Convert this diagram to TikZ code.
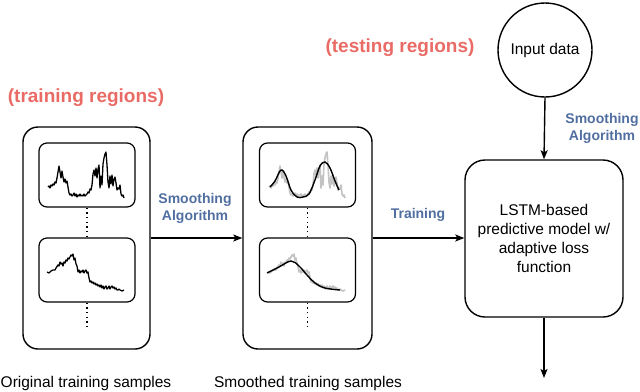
\documentclass[tikz,border=0pt]{standalone}
\usepackage{fontspec}
\setmainfont{Liberation Sans}
\usetikzlibrary{arrows.meta}
\definecolor{redlab}{RGB}{234,107,102}
\definecolor{bluelab}{RGB}{80,110,160}
\definecolor{noisegray}{RGB}{195,195,195}
\begin{document}
\begin{tikzpicture}[x=1pt,y=-1pt,
  bigbox/.style={draw,line width=1.4pt,rounded corners=15pt,inner sep=0pt},
  smallbox/.style={draw,line width=1.2pt,rounded corners=8pt,inner sep=0pt,minimum width=96pt,minimum height=64pt},
  arr/.style={line width=1.4pt,-{Stealth[length=9pt,width=7pt,inset=2pt]}},
  dots/.style={line width=1.2pt,dash pattern=on 1.2pt off 3.5pt},
  blab/.style={text=bluelab,font=\fontsize{14}{17}\selectfont\bfseries,align=center},
  rlab/.style={text=redlab,font=\fontsize{19}{22}\selectfont\bfseries},
  captext/.style={font=\fontsize{15.5}{18}\selectfont},
  sig/.style={line width=1.3pt,line join=round},
  sm/.style={line width=1.4pt,smooth,tension=0.6}]
\useasboundingbox (0,0) rectangle (640,391);

% big boxes
\node[bigbox,minimum width=127pt,minimum height=222pt] (orig) at (86.5,238) {};
\node[bigbox,minimum width=129pt,minimum height=222pt] (smo) at (307.5,238) {};
\node[bigbox,rounded corners=20pt,minimum width=158pt,minimum height=157pt,align=center,font=\fontsize{15.5}{18.7}\selectfont] (lstm) at (544,238.5) {LSTM-based\\predictive model w/\\adaptive loss\\function};
\node[draw,circle,line width=1.4pt,minimum size=94pt,inner sep=0pt,font=\fontsize{15.5}{18}\selectfont] (inp) at (545,50) {Input data};

% inner boxes
\node[smallbox] (o1) at (87,175) {};
\node[smallbox] (o2) at (87,270) {};
\node[smallbox] (s1) at (307.5,175) {};
\node[smallbox] (s2) at (307.5,270) {};
\coordinate (oend) at (87,330);
\coordinate (send) at (307.5,330);
\draw[dots] (o1.south) -- (o2.north);
\draw[dots] (o2.south) -- (oend);
\draw[dots] (s1.south) -- (s2.north);
\draw[dots] (s2.south) -- (send);

% signals
\def\topsig{(48,187) (49,186) (50,188) (51,185) (52,186) (53,184) (54,185) (55,182) (56,183) (57,178) (58,172) (59,166) (60,172) (61,178) (62,171) (63,177) (64,182) (65,179) (66,183) (67,181) (68,187) (69,193) (70,195) (71,194) (72,196) (73,195) (74,193) (75,196) (76,194) (77,197) (78,195) (79,196) (80,194) (81,196) (82,195) (83,196) (84,194) (85,196) (86,195) (87,194) (88,192) (89,193) (90,189) (91,190) (92,185) (93,174) (94,170) (95,176) (96,168) (97,178) (98,169) (99,165) (100,188) (101,176) (102,185) (103,164) (104,158) (105,154) (106,152) (107,165) (108,182) (109,188) (110,176) (111,184) (112,175) (113,186) (114,179) (115,177) (116,183) (117,190) (118,188) (119,189) (120,185) (121,194) (122,196) (123,195) (124,198)}
\def\botsig{(47,272) (49,273) (51,271) (53,270) (55,270) (56,268) (58,265) (59,266) (60,262) (61,264) (62,263) (63,266) (64,262) (65,263) (66,260) (67,261) (68,258) (69,259) (70,257) (71,255) (72,256) (73,254) (74,260) (75,258) (76,264) (77,266) (78,272) (79,270) (80,273) (81,271) (82,272) (83,270) (84,273) (85,271) (86,270) (87,273) (88,272) (89,278) (90,282) (91,281) (92,283) (93,282) (94,284) (95,283) (96,285) (97,284) (98,286) (99,285) (100,287) (101,285) (102,288) (103,286) (104,289) (105,287) (106,286) (107,289) (108,288) (109,286) (110,289) (111,287) (112,286) (113,288) (114,287) (115,289) (116,288) (117,290) (118,290) (119,289) (120,290) (122,291) (124,290)}
\draw[sig] plot coordinates \topsig;
\draw[sig] plot coordinates \botsig;
\begin{scope}[xshift=221pt]
\draw[sig,noisegray,line width=1.6pt] plot coordinates \topsig;
\draw[sig,noisegray,line width=1.6pt] plot coordinates \botsig;
\end{scope}
\draw[sm] plot coordinates {(270,187) (275,181) (281,170) (286,176) (291,190) (297,197) (303,197) (309,194) (315,180) (320,166) (325,162) (330,168) (335,181) (339,190)};
\draw[sm] plot coordinates {(267,273) (279,267) (291,261) (299,266) (307,275) (315,283) (325,288) (340,290)};

% arrows
\draw[arr] (orig.east) -- (smo.west);
\draw[arr] (smo.east) -- (lstm.west |- smo.east);
\draw[arr] (inp.south) -- (lstm.north);
\coordinate (out) at (544,378);
\draw[arr] (lstm.south) -- (out);

% labels
\node[blab] (l1) at (195,208.5) {Smoothing\\Algorithm};
\node[blab] (l2) at (418,215) {Training};
\node[blab] (l3) at (602,128.5) {Smoothing\\Algorithm};
\node[rlab] (t1) at (86,98) {(training regions)};
\node[rlab] (t2) at (400,48) {(testing regions)};
\node[captext] (c1) at (86,383) {Original training samples};
\node[captext] (c2) at (308,383) {Smoothed training samples};
\end{tikzpicture}
\end{document}
